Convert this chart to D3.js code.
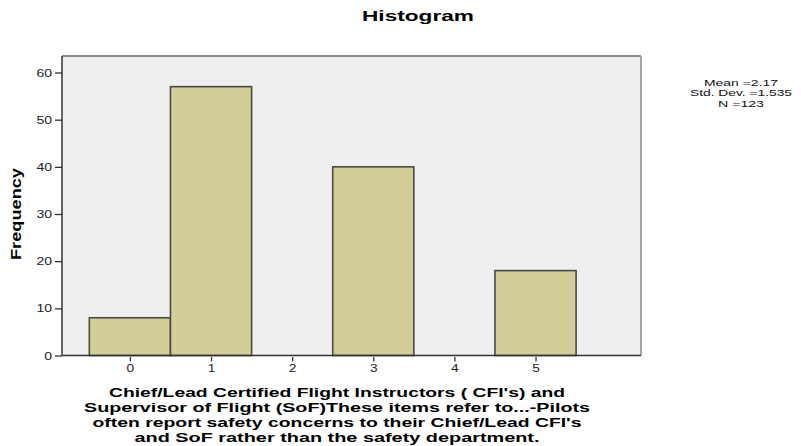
<!DOCTYPE html>
<html>
<head>
<meta charset="utf-8">
<script src="https://cdn.jsdelivr.net/npm/d3@7/dist/d3.min.js"></script>
<style>
  html, body { margin: 0; padding: 0; background: #ffffff; }
  svg { display: block; font-family: "Liberation Sans", Arial, sans-serif; }
</style>
</head>
<body>
<svg id="chart" width="801" height="446"></svg>
<script>
// Response categories and their counts
const categories = [0, 1, 2, 3, 4, 5];
const frequencies = [8, 57, 0, 40, 0, 18];
const yTicks = [0, 10, 20, 30, 40, 50, 60];
const statsLines = ["Mean =2.17", "Std. Dev. =1.535", "N =123"];
const titleText = "Histogram";
const yLabel = "Frequency";
const xLabelLines = [
  "Chief/Lead Certified Flight Instructors ( CFI's) and",
  "Supervisor of Flight (SoF)These items refer to...-Pilots",
  "often report safety concerns to their Chief/Lead CFI's",
  "and SoF rather than the safety department."
];

const svg = d3.select("#chart");
const frame = { left: 62, right: 641, top: 56, bottom: 355.5 };

const x = d3.scaleLinear().domain([-0.837, 6.3]).range([frame.left, frame.right]);
const y = d3.scaleLinear().domain([0, 63.5]).range([frame.bottom, frame.top]);

// stretch text to a measured width
function fit(sel, w) {
  sel.attr("textLength", w).attr("lengthAdjust", "spacingAndGlyphs");
}

// plot background
svg.append("rect")
  .attr("x", frame.left).attr("y", frame.top)
  .attr("width", frame.right - frame.left).attr("height", frame.bottom - frame.top)
  .attr("fill", "#efefef");

// frame top and right edges
svg.append("line")
  .attr("x1", frame.left).attr("x2", frame.right)
  .attr("y1", frame.top).attr("y2", frame.top)
  .attr("stroke", "#8a8a8a").attr("stroke-width", 2);
svg.append("line")
  .attr("x1", frame.right).attr("x2", frame.right)
  .attr("y1", frame.top).attr("y2", frame.bottom)
  .attr("stroke", "#8a8a8a").attr("stroke-width", 1.5);

// bars
const data = categories.map((c, i) => ({ c, f: frequencies[i] })).filter(d => d.f > 0);
svg.append("g").selectAll("rect").data(data).join("rect")
  .attr("x", d => x(d.c - 0.5))
  .attr("y", d => y(d.f))
  .attr("width", d => x(d.c + 0.5) - x(d.c - 0.5))
  .attr("height", d => y(0) - y(d.f))
  .attr("fill", "#d3ce97")
  .attr("stroke", "#4a4a46")
  .attr("stroke-width", 1.6);

// y axis
const yAxis = d3.axisLeft(y).tickValues(yTicks).tickSize(7).tickPadding(3).tickSizeOuter(0);
const gy = svg.append("g").attr("transform", `translate(${frame.left},0)`).call(yAxis);
gy.select(".domain").attr("stroke", "#333").attr("stroke-width", 1.5)
  .attr("d", `M0,${frame.top}V${frame.bottom}`);
gy.selectAll(".tick line").attr("stroke", "#333").attr("stroke-width", 1.3);
gy.selectAll(".tick text").attr("fill", "#222").style("font-size", "11px")
  .each(function(d) { d3.select(this).call(fit, String(d).length * 7.8); });

// x axis
const xAxis = d3.axisBottom(x).tickValues(categories).tickFormat(d3.format("d"))
  .tickSize(6).tickPadding(3).tickSizeOuter(0);
const gx = svg.append("g").attr("transform", `translate(0,${frame.bottom})`).call(xAxis);
gx.select(".domain").attr("stroke", "#333").attr("stroke-width", 1.5)
  .attr("d", `M${frame.left},0H${frame.right}`);
gx.selectAll(".tick line").attr("stroke", "#333").attr("stroke-width", 1.3).attr("y1", 1.5);
gx.selectAll(".tick text").attr("fill", "#222").style("font-size", "11px")
  .each(function() { d3.select(this).call(fit, 7.6); });

// title
svg.append("text")
  .attr("x", 418).attr("y", 21)
  .attr("text-anchor", "middle")
  .style("font-size", "15px").style("font-weight", "bold")
  .text(titleText)
  .call(fit, 112);

// y label
svg.append("text")
  .attr("transform", "translate(21,214) rotate(-90)")
  .attr("text-anchor", "middle")
  .style("font-size", "14px").style("font-weight", "bold")
  .text(yLabel)
  .call(fit, 92);

// x label
const xLabelWidths = [456, 506, 489, 405];
const xl = svg.append("g");
xLabelLines.forEach((line, i) => {
  xl.append("text")
    .attr("x", 337).attr("y", 396.5 + i * 15.3)
    .attr("text-anchor", "middle")
    .style("font-size", "13.2px").style("font-weight", "bold")
    .text(line)
    .call(fit, xLabelWidths[i]);
});

// summary statistics
const statsWidths = [74, 102, 46];
statsLines.forEach((line, i) => {
  svg.append("text")
    .attr("x", 741).attr("y", 86 + i * 10.4)
    .attr("text-anchor", "middle")
    .style("font-size", "9px")
    .attr("fill", "#111")
    .text(line)
    .call(fit, statsWidths[i]);
});
</script>
</body>
</html>
